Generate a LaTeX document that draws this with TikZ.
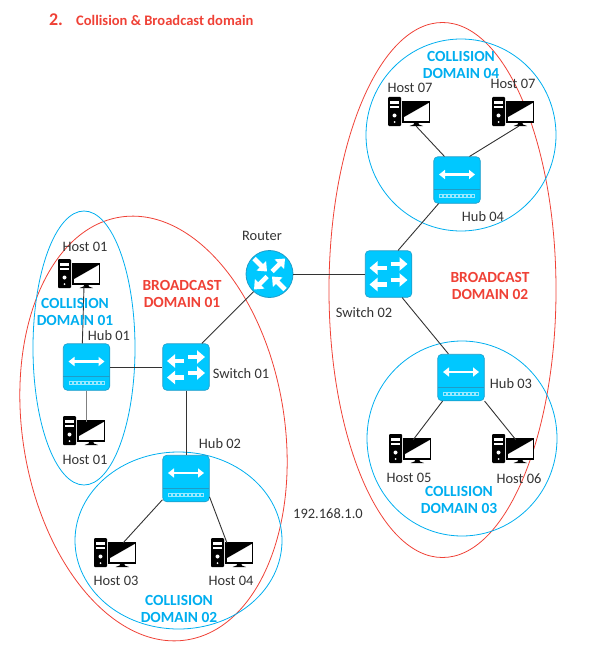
\documentclass[tikz,border=0pt]{standalone}
\usepackage{fontspec}
\setmainfont{Carlito}
\usetikzlibrary{arrows.meta}
\definecolor{netblue}{HTML}{00C8FF}
\definecolor{netedge}{HTML}{1E9CC8}
\definecolor{zoneblue}{HTML}{00AEEF}
\definecolor{zonered}{HTML}{EF4136}
\definecolor{labelink}{HTML}{333333}

\begin{document}
\begin{tikzpicture}[
  x=1bp,
  y=-1bp,
  every node/.style={font=\fontsize{14.5}{16}\selectfont, labelink},
  collzone/.style={zoneblue, line width=0.8pt},
  bcastzone/.style={zonered, line width=0.8pt},
  collname/.style={font=\fontsize{15.5}{17.5}\selectfont\bfseries, zoneblue, align=center},
  bcastname/.style={font=\fontsize{15.5}{17.5}\selectfont\bfseries, zonered, align=center},
  wire/.style={labelink, line width=0.9pt},
  netbox/.style={draw=netedge, line width=0.6pt, fill=netblue, rounded corners=4bp,
                 inner sep=0pt, minimum size=46.5bp},
  netdisc/.style={circle, draw=netedge, line width=0.8pt, fill=netblue,
                  inner sep=0pt, minimum size=47bp},
  hostpt/.style={inner sep=0pt, minimum size=0pt},
  flow/.style={white, line width=4.6bp, -{Triangle[length=8bp,width=13bp]}},
  pics/hubmark/.style={code={
    \draw[white, line width=2.4bp, {Triangle[length=6bp,width=9bp]}-{Triangle[length=6bp,width=9bp]}]
      (-18,-5.5) -- (18,-5.5);
    \draw[netedge, line width=0.6pt] (-23.2,9.5) -- (23.2,9.5);
    \foreach \i in {-4,...,4}
      \draw[white!60!netblue, line width=0.4pt] (\i*4-1.4,14.6) rectangle (\i*4+1.4,17.4);
  }},
  pics/switchmark/.style={code={
    \draw[flow] (-2,-6) -- (-19,-6);
    \draw[flow] (2,-10) -- (19,-10);
    \draw[flow] (-2,10.5) -- (-19,10.5);
    \draw[flow] (2,6) -- (19,6);
  }},
  pics/routermark/.style={code={
    \draw[flow] (-15.5,-15.5) -- (-2.5,-2.5);
    \draw[flow] (2.5,-2.5) -- (15.5,-15.5);
    \draw[flow] (-2.5,2.5) -- (-15.5,15.5);
    \draw[flow] (15.5,15.5) -- (2.5,2.5);
  }},
  % origin of the mark: top left corner of the tower
  pics/hostmark/.style={code={
    \fill[black, rounded corners=1bp] (0,0) rectangle (13,29);
    \fill[white] (2,4) rectangle (11,7);
    \fill[white] (2,9) rectangle (11,11);
    \fill[white] (6.5,18.5) circle [radius=2];
    \fill[white] (6.5,25) circle [radius=1];
    \draw[black, line width=1.1bp, fill=white] (15,5) rectangle (41.5,25);
    \fill[black] (16,6) -- (40.5,6) -- (16,20) -- cycle;
    \fill[black] (26.5,25) -- (30,25) -- (31,27.5) -- (35,29) -- (21.5,29) -- (25.5,27.5) -- cycle;
  }}
]
  \useasboundingbox (0,0) rectangle (597,651);

  % ---- domains ----
  \draw[bcastzone] (153.5,428.5) ellipse [x radius=131, y radius=214, rotate=9];
  \draw[bcastzone] (442.5,290) ellipse [x radius=113.5, y radius=267.5];
  \draw[collzone] (84,348) ellipse [x radius=51, y radius=137];
  \draw[collzone] (178.5,540.5) ellipse [x radius=103.5, y radius=88.5];
  \draw[collzone] (462,438.5) ellipse [x radius=95, y radius=97.5];
  \draw[collzone] (461,135) ellipse [x radius=95, y radius=96];

  % ---- devices ----
  \node[netdisc] (router) at (269.5,274) {};
  \node[netbox] (switch1) at (186,367) {};
  \node[netbox] (switch2) at (388.5,274) {};
  \node[netbox] (hub1) at (86.5,367) {};
  \node[netbox] (hub2) at (186,478.5) {};
  \node[netbox] (hub3) at (461,377.5) {};
  \node[netbox] (hub4) at (457,180) {};

  % ---- host points (where each wire lands) ----
  \node[hostpt] (host1) at (84,286) {};
  \node[hostpt] (host2) at (86.5,422) {};
  \node[hostpt] (host3) at (123,543) {};
  \node[hostpt] (host4) at (227,543) {};
  \node[hostpt] (host5) at (413,440) {};
  \node[hostpt] (host6) at (516,440) {};
  \node[hostpt] (host7) at (416,126) {};
  \node[hostpt] (host8) at (519,126) {};

  % ---- host marks ----
  \pic at (58,259) {hostmark};
  \pic at (63,416) {hostmark};
  \pic at (94,538) {hostmark};
  \pic at (211,538) {hostmark};
  \pic at (389,434) {hostmark};
  \pic at (492,434) {hostmark};
  \pic at (388,97) {hostmark};
  \pic at (492,97) {hostmark};

  % ---- wires ----
  \draw[wire] (switch1.56) -- (router.228);
  \draw[wire] (router.east) -- (switch2.west);
  \draw[wire] (hub1.east) -- (switch1.west);
  \draw[wire] (switch1.south) -- (hub2.north);
  \draw[wire] (switch2.68) -- (hub4.232);
  \draw[wire] (switch2.-60) -- (hub3.118);
  \draw[wire] (hub1.100) -- (host1);
  \draw[wire, gray] (hub1.south) -- (host2);
  \draw[wire] (hub2.222) -- (host3);
  \draw[wire] (hub2.-38) -- (host4);
  \draw[wire] (hub3.232) -- (host5);
  \draw[wire] (hub3.-45) -- (host6);
  \draw[wire] (hub4.118) -- (host7);
  \draw[wire] (hub4.62) -- (host8);

  % ---- device marks ----
  \pic at (router) {routermark};
  \pic at (switch1) {switchmark};
  \pic at (switch2) {switchmark};
  \pic at (hub1) {hubmark};
  \pic at (hub2) {hubmark};
  \pic at (hub3) {hubmark};
  \pic at (hub4) {hubmark};

  % ---- title ----
  \node[font=\fontsize{18}{20}\selectfont\bfseries, zonered] (titlenum) at (56,20) {2.};
  \node[font=\fontsize{14.6}{16}\selectfont\bfseries, zonered, anchor=west, inner sep=0pt] (titletext) at (76,20) {Collision \& Broadcast domain};

  % ---- device labels ----
  \node (lbhost1) at (85,247) {Host 01};
  \node (lbhost2) at (85,460) {Host 01};
  \node (lbhost3) at (116,581) {Host 03};
  \node (lbhost4) at (231,581) {Host 04};
  \node (lbhost5) at (409,478) {Host 05};
  \node (lbhost6) at (519,479) {Host 06};
  \node (lbhost7) at (410,88) {Host 07};
  \node (lbhost8) at (513,84) {Host 07};
  \node (lbhub1) at (109,336) {Hub 01};
  \node (lbhub2) at (220,444) {Hub 02};
  \node (lbhub3) at (511,384) {Hub 03};
  \node (lbhub4) at (483,217) {Hub 04};
  \node (lbswitch1) at (241,374) {Switch 01};
  \node (lbswitch2) at (364,313) {Switch 02};
  \node (lbrouter) at (262,236) {Router};
  \node (lbnet) at (328,514) {192.168.1.0};

  % ---- domain labels ----
  \node[collname] (lbcoll1) at (75,312) {COLLISION\\DOMAIN 01};
  \node[collname] (lbcoll2) at (179,609) {COLLISION\\DOMAIN 02};
  \node[collname] (lbcoll3) at (459,500) {COLLISION\\DOMAIN 03};
  \node[collname] (lbcoll4) at (461,65) {COLLISION\\DOMAIN 04};
  \node[bcastname] (lbbcast1) at (182,294) {BROADCAST\\DOMAIN 01};
  \node[bcastname] (lbbcast2) at (490,286) {BROADCAST\\DOMAIN 02};
\end{tikzpicture}
\end{document}
